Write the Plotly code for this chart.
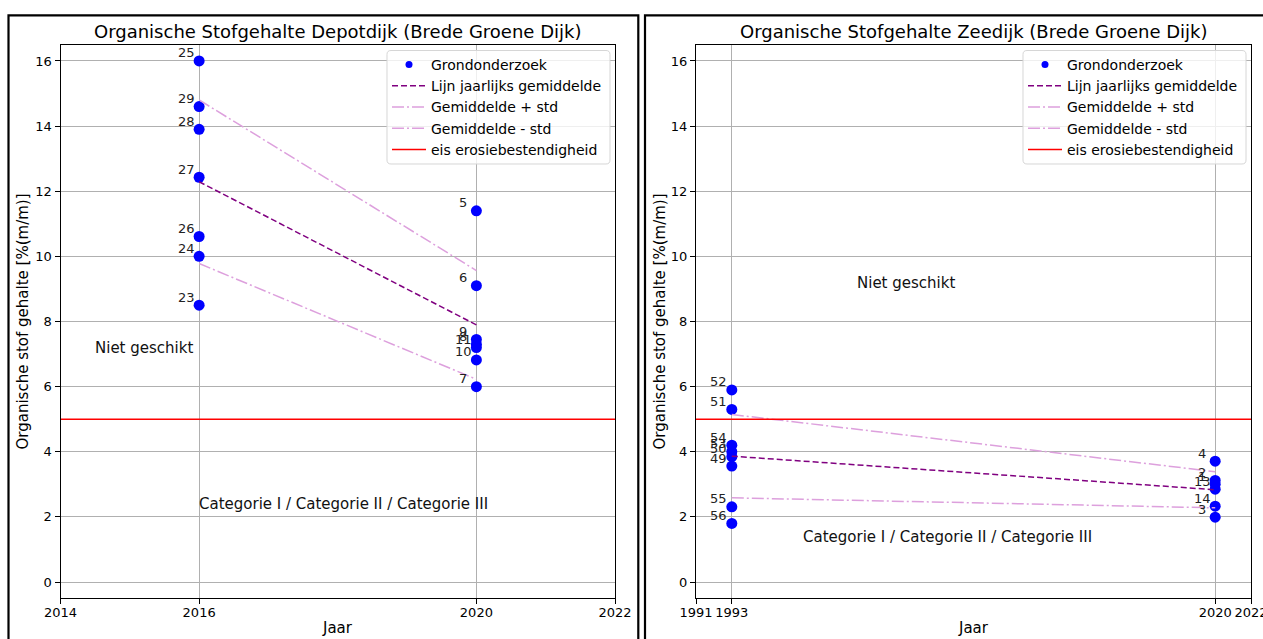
import numpy as np
import plotly.graph_objects as go

# --- Depotdijk: soil samples (point number, year, organic matter %) ---
depot_punten = ["25", "29", "28", "27", "26", "24", "23",
                "5", "6", "9", "8", "11", "10", "7"]
depot_jaar = [2016, 2016, 2016, 2016, 2016, 2016, 2016,
              2020, 2020, 2020, 2020, 2020, 2020, 2020]
depot_os = [16.0, 14.6, 13.9, 12.43, 10.61, 10.0, 8.5,
            11.4, 9.1, 7.45, 7.3, 7.2, 6.82, 6.0]

# --- Zeedijk: soil samples ---
zee_punten = ["52", "51", "54", "53", "50", "49", "55", "56",
              "4", "2", "1", "13", "14", "3"]
zee_jaar = [1993, 1993, 1993, 1993, 1993, 1993, 1993, 1993,
            2020, 2020, 2020, 2020, 2020, 2020]
zee_os = [5.9, 5.3, 4.2, 4.0, 3.85, 3.56, 2.31, 1.80,
          3.71, 3.12, 3.0, 2.85, 2.33, 1.99]

# requirement for erosion resistance
eis_os = 5.0

# axis settings
depot_xrange = [2014, 2022]
depot_xticks = [2014, 2016, 2020, 2022]
zee_xrange = [1991, 2022]
zee_xticks = [1991, 1993, 2020, 2022]
y_range = [-0.5, 16.5]
y_ticks = [0, 2, 4, 6, 8, 10, 12, 14, 16]

titels = ["Organische Stofgehalte Depotdijk (Brede Groene Dijk)",
          "Organische Stofgehalte Zeedijk (Brede Groene Dijk)"]
x_label = "Jaar"
y_label = "Organische stof gehalte [%(m/m)]"
tekst_niet = "Niet geschikt"
tekst_cat = "Categorie I / Categorie II / Categorie III"
# (x, y) of the zone texts per chart
depot_niet_pos = (2014.5, 7.0)
depot_cat_pos = (2016, 2.2)
zee_niet_pos = (2000, 9.0)
zee_cat_pos = (1997, 1.2)

W, H = 1263, 639
FONT = "DejaVu Sans"


def px(x):
    return x / W


def py(y):
    return 1 - y / H


fig = go.Figure()


def jaar_stats(jaar, waarden):
    jaar = np.asarray(jaar)
    waarden = np.asarray(waarden)
    jaren = np.unique(jaar)
    gem = np.array([waarden[jaar == j].mean() for j in jaren])
    std = np.array([waarden[jaar == j].std() for j in jaren])
    return jaren, gem, std


def add_chart(xa, ya, legend, jaar, waarden, punten, xrange):
    jaren, gem, std = jaar_stats(jaar, waarden)
    # samples
    fig.add_trace(go.Scatter(
        x=jaar, y=waarden, mode="markers", xaxis=xa, yaxis=ya,
        marker=dict(color="blue", size=11), showlegend=False,
        hoverinfo="x+y"))
    # legend-only marker entry (smaller symbol as in the legend)
    fig.add_trace(go.Scatter(
        x=[None], y=[None], mode="markers", xaxis=xa, yaxis=ya,
        marker=dict(color="blue", size=7), name="Grondonderzoek",
        legend=legend, legendgroup=legend + "a"))
    fig.add_trace(go.Scatter(
        x=jaren, y=gem, mode="lines", xaxis=xa, yaxis=ya,
        line=dict(color="purple", width=1.5, dash="6px,3px"),
        name="Lijn jaarlijks gemiddelde", legend=legend,
        legendgroup=legend + "b"))
    fig.add_trace(go.Scatter(
        x=jaren, y=gem + std, mode="lines", xaxis=xa, yaxis=ya,
        line=dict(color="plum", width=1.5, dash="12px,3px,2px,3px"),
        name="Gemiddelde + std", legend=legend, legendgroup=legend + "c"))
    fig.add_trace(go.Scatter(
        x=jaren, y=gem - std, mode="lines", xaxis=xa, yaxis=ya,
        line=dict(color="plum", width=1.5, dash="12px,3px,2px,3px"),
        name="Gemiddelde - std", legend=legend, legendgroup=legend + "d"))
    fig.add_trace(go.Scatter(
        x=xrange, y=[eis_os, eis_os], mode="lines", xaxis=xa, yaxis=ya,
        line=dict(color="red", width=1.5),
        name="eis erosiebestendigheid", legend=legend,
        legendgroup=legend + "e"))
    # point numbers
    for x, y, t in zip(jaar, waarden, punten):
        fig.add_annotation(
            x=x, y=y, xref=xa, yref=ya, text=t, showarrow=False,
            xanchor="center", yanchor="middle", xshift=-13, yshift=8,
            font=dict(family=FONT, size=13, color="#222"))


add_chart("x", "y", "legend", depot_jaar, depot_os, depot_punten,
          depot_xrange)
add_chart("x2", "y2", "legend2", zee_jaar, zee_os, zee_punten, zee_xrange)

# zone texts
for xa, ya, pos, txt in [("x", "y", depot_niet_pos, tekst_niet),
                         ("x", "y", depot_cat_pos, tekst_cat),
                         ("x2", "y2", zee_niet_pos, tekst_niet),
                         ("x2", "y2", zee_cat_pos, tekst_cat)]:
    fig.add_annotation(x=pos[0], y=pos[1], xref=xa, yref=ya, text=txt,
                       showarrow=False, xanchor="left", yanchor="middle",
                       xshift=-2, yshift=6,
                       font=dict(family=FONT, size=15, color="#111"))

# plot areas in pixels
ax_top, ax_bot = 44.7, 598.3
dom_left = [px(60.5), px(615)]
dom_right = [px(696), px(1251)]
ydom = [py(ax_bot), py(ax_top)]

axis_common = dict(
    showgrid=True, gridcolor="#b0b0b0", gridwidth=1, zeroline=False,
    showline=True, linecolor="black", linewidth=1, mirror=True,
    ticks="outside", ticklen=5, tickwidth=1, tickcolor="black",
    tickfont=dict(family=FONT, size=13, color="black"),
    automargin=False, tickangle=0,
)
xaxis_extra = dict(ticklabeloverflow="allow", ticklabelstandoff=-3)

legend_common = dict(
    xanchor="left", yanchor="top",
    bgcolor="rgba(0,0,0,0)", borderwidth=0,
    font=dict(family=FONT, size=14, color="black"),
    tracegroupgap=0, itemwidth=34,
)

fig.update_layout(
    width=W, height=H, margin=dict(l=0, r=0, t=0, b=0),
    paper_bgcolor="white", plot_bgcolor="white",
    xaxis=dict(domain=dom_left, range=depot_xrange, tickvals=depot_xticks,
               anchor="y", **axis_common, **xaxis_extra),
    yaxis=dict(domain=ydom, range=y_range, tickvals=y_ticks, anchor="x",
               **axis_common),
    xaxis2=dict(domain=dom_right, range=zee_xrange, tickvals=zee_xticks,
                anchor="y2", **axis_common, **xaxis_extra),
    yaxis2=dict(domain=ydom, range=y_range, tickvals=y_ticks, anchor="x2",
                **axis_common),
    legend=dict(x=px(387), y=py(49), **legend_common),
    legend2=dict(x=px(1023), y=py(49), **legend_common),
    showlegend=True,
)


# rounded legend frames behind the legend entries
def rounded_box(x0, y0, x1, y1, r=4):
    def P(x, y):
        return f"{px(x):.6f},{py(y):.6f}"
    return (f"M{P(x0 + r, y0)} L{P(x1 - r, y0)} Q{P(x1, y0)} {P(x1, y0 + r)} "
            f"L{P(x1, y1 - r)} Q{P(x1, y1)} {P(x1 - r, y1)} "
            f"L{P(x0 + r, y1)} Q{P(x0, y1)} {P(x0, y1 - r)} "
            f"L{P(x0, y0 + r)} Q{P(x0, y0)} {P(x0 + r, y0)} Z")


for x_right in [615, 1251]:
    fig.add_shape(type="path", xref="paper", yref="paper",
                  path=rounded_box(x_right - 228, 50.5, x_right - 5, 164),
                  line=dict(color="#d6d6d6", width=1),
                  fillcolor="rgba(255,255,255,0.8)", layer="above")

# titles and axis labels
for dom, titel in [(dom_left, titels[0]), (dom_right, titels[1])]:
    cx = (dom[0] + dom[1]) / 2
    fig.add_annotation(x=cx, y=py(31), xref="paper", yref="paper",
                       text=titel, showarrow=False, xanchor="center",
                       yanchor="middle",
                       font=dict(family=FONT, size=18, color="black"))
    fig.add_annotation(x=cx, y=py(628), xref="paper", yref="paper",
                       text=x_label, showarrow=False, xanchor="center",
                       yanchor="middle",
                       font=dict(family=FONT, size=15, color="black"))

for xc in [22, 659]:
    fig.add_annotation(x=px(xc), y=py(321.5), xref="paper", yref="paper",
                       text=y_label, showarrow=False, textangle=-90,
                       xanchor="center", yanchor="middle",
                       font=dict(family=FONT, size=15, color="black"))

# black frames around both charts
for x0, x1 in [(8.5, 638.3), (645, 1275)]:
    fig.add_shape(type="rect", xref="paper", yref="paper",
                  x0=px(x0), x1=px(x1), y0=py(660), y1=py(15.3),
                  line=dict(color="black", width=2.2),
                  fillcolor="rgba(0,0,0,0)")

fig.write_html("out.html")
